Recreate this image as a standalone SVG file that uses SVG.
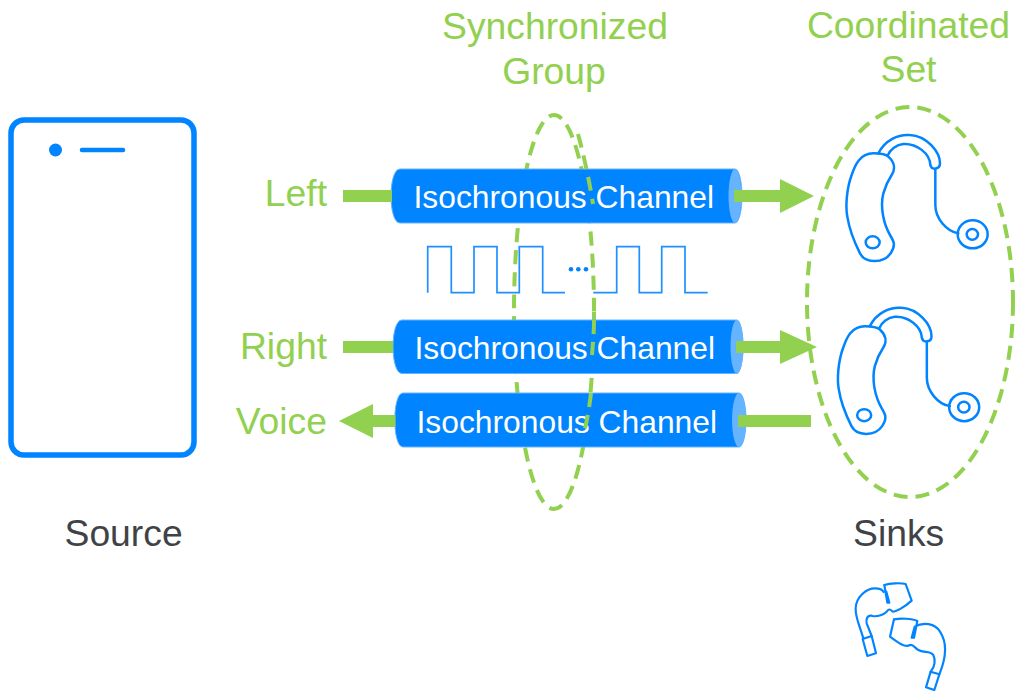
<svg xmlns="http://www.w3.org/2000/svg" xmlns:xlink="http://www.w3.org/1999/xlink" width="1015" height="691" viewBox="0 0 1015 691">
<style>
text{font-family:"Liberation Sans",Arial,sans-serif}
.lab{font-size:37.300px;fill:#92D050}
.dark{font-size:37.300px;fill:#3F4347}
.ch{font-size:31.800px;fill:#fff}
.tube{fill:#0084FF;stroke:#66B3FF;stroke-width:1}
.cap{fill:#66B3FF}
.dash{fill:none;stroke:#92D050;stroke-width:4;stroke-dasharray:14 8}
.ln{fill:none;stroke:#0084FF;stroke-linecap:round;stroke-linejoin:round}
.pulse{fill:none;stroke:#1E90FF;stroke-width:1.7}
.arrow{fill:#92D050}
</style>
<defs>
<g id="aid" class="ln" stroke-width="7.5">
<path d="M160 130C120 130 105 165 95 195C80 235 76 290 82 320C88 360 105 400 120 430C135 460 190 462 212 430C228 405 222 395 210 375C190 340 180 290 190 250C197 225 205 210 215 195C228 175 222 155 205 140C195 130 175 130 160 130Z"/>
<path d="M175 130C195 90 235 72 270 75C320 78 360 125 360 160C360 178 335 182 331 165C330 130 290 100 250 102C230 104 210 118 203 137"/>
<path d="M346 178L346 285C346 325 380 365 415 370"/>
<ellipse cx="458" cy="373" rx="45" ry="42"/>
<ellipse cx="457" cy="373" rx="17" ry="16"/>
<ellipse cx="158" cy="397" rx="21" ry="18"/>
</g>
</defs>
<g id="source">
<rect x="11" y="120" width="183" height="335" rx="13" fill="none" stroke="#0084FF" stroke-width="5.5"/>
<circle cx="55.5" cy="150" r="6.5" fill="#0084FF"/>
<line x1="82" y1="150" x2="123" y2="150" class="ln" stroke-width="4.5"/>
<text x="64.500" y="546" class="dark">Source</text>
</g>
<g id="sync-group-back">
<ellipse cx="554" cy="312" rx="40" ry="197" class="dash"/>
</g>
<g id="channel-left">
<path d="M400 169H735A7 27 0 0 1 735 223H400C388 223 388 169 400 169Z" class="tube"/>
<ellipse cx="735" cy="196" rx="6.5" ry="27" class="cap"/>
<text x="413.500" y="208" class="ch">Isochronous Channel</text>
</g>
<g id="pulses">
<path d="M427.7 292.7V246.7H451.3V292.7H474V246.7H497V292.7H519.3V246.7H542.7V292.7H565" class="pulse"/>
<path d="M593.3 292.7H616.7V246.7H639.3V292.7H661.7V246.7H685V292.7H707.7" class="pulse"/>
<circle cx="571" cy="269.3" r="2.300" fill="#0084FF"/>
<circle cx="578.3" cy="269.3" r="2.300" fill="#0084FF"/>
<circle cx="586" cy="269.3" r="2.300" fill="#0084FF"/>
</g>
<g id="channel-right">
<path d="M402 320H737A7 27 0 0 1 737 373.500H402C390 373.500 390 320 402 320Z" class="tube"/>
<ellipse cx="737" cy="346.700" rx="6.500" ry="27" class="cap"/>
<text x="414.500" y="359" class="ch">Isochronous Channel</text>
</g>
<g id="channel-voice">
<path d="M403 393H739A7 27 0 0 1 739 447H403C392 447 392 393 403 393Z" class="tube"/>
<ellipse cx="739" cy="420" rx="7" ry="27" class="cap"/>
<text x="416.500" y="433" class="ch">Isochronous Channel</text>
</g>
<g id="connectors">
<rect x="343" y="190" width="49" height="12" class="arrow"/>
<path d="M734 190H780V179L814 196L780 213V202H734Z" class="arrow"/>
<rect x="343" y="341" width="50" height="12" class="arrow"/>
<path d="M736 341H780V330L817 347L780 364V353H736Z" class="arrow"/>
<path d="M395.500 415H373V404L339 421L373 438V427H395.500Z" class="arrow"/>
<rect x="738" y="415" width="73" height="12" class="arrow"/>
</g>
<g id="sync-group-front">
<path d="M578 134C585 160 590 185 593 204" class="dash"/>
<path d="M594 320C594 332 593 342 592 355" class="dash"/>
<path d="M591 393C589 410 587 420 584 433" class="dash"/>
</g>
<g id="sync-label">
<text x="555" y="39" text-anchor="middle" class="lab">Synchronized</text>
<text x="554" y="84" text-anchor="middle" class="lab">Group</text>
</g>
<g id="coord-set">
<ellipse cx="910" cy="302" rx="103" ry="195" class="dash"/>
<text x="908.500" y="38" text-anchor="middle" class="lab">Coordinated</text>
<text x="908.500" y="82" text-anchor="middle" class="lab">Set</text>
</g>
<g id="left-label"><text x="327" y="206" text-anchor="end" class="lab">Left</text></g>
<g id="right-label"><text x="327" y="359" text-anchor="end" class="lab">Right</text></g>
<g id="voice-label"><text x="327" y="434" text-anchor="end" class="lab">Voice</text></g>
<g id="aid-top" transform="translate(820 110) scale(.33333)"><use href="#aid"/></g>
<g id="aid-bottom" transform="translate(811.500 282.800) scale(.33333)"><use href="#aid"/></g>
<g id="sinks"><text x="853" y="546" class="dark">Sinks</text></g>
<g id="earbuds" transform="translate(840 570) scale(.33333)" class="ln" stroke-width="6.500">
<path d="M70 205C60 170 45 140 47 115C48 80 80 55 105 55C118 55 128 60 131 66"/>
<path d="M133 45C150 40 180 38 197 42L215 92C195 110 170 125 158 125C150 115 145 118 140 125C130 135 110 142 95 137C80 135 78 150 80 160L95 198"/>
<path d="M133 45L142 98L148 98L139 65"/>
<path d="M68 207L95 198L108 250L82 258Z"/>
<path d="M162 148C180 145 215 145 232 153L222 203L215 203L224 170C250 155 285 160 300 185C320 215 320 260 298 313"/>
<path d="M162 148L150 200C170 215 195 235 210 225C220 222 225 235 235 240C250 250 270 240 280 255C287 270 285 290 272 305"/>
<path d="M272 305L298 313L283 360L258 352Z"/>
</g>
</svg>
